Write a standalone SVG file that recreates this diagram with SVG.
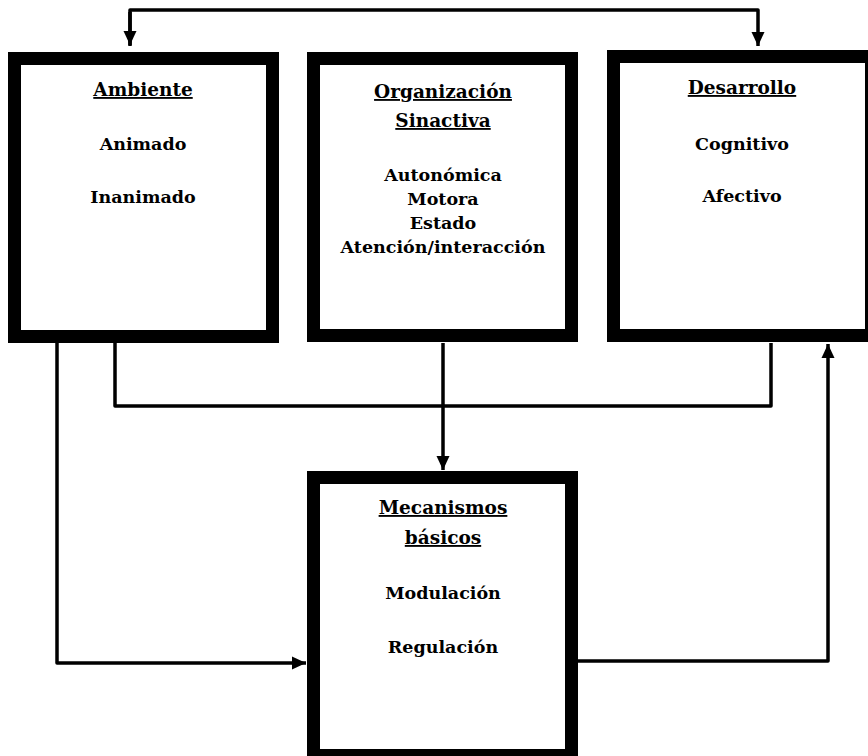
<svg xmlns="http://www.w3.org/2000/svg" width="868" height="756" viewBox="0 0 868 756">
<style>
.box{fill:#fff;stroke:#000;stroke-width:13}
.t{font-family:"DejaVu Serif","Liberation Serif",serif;font-weight:bold;font-size:17.5px;fill:#000;text-anchor:middle}
.h{text-decoration:underline;font-size:18.5px}
.c{fill:none;stroke:#000;stroke-width:3.5;stroke-linejoin:round}
</style>
<defs>
<marker id="ah" markerUnits="userSpaceOnUse" markerWidth="16" markerHeight="16" viewBox="0 0 16 16" refX="14" refY="8" orient="auto">
<path d="M0,1.5 L14,8 L0,14.5 Z" fill="#000"/>
</marker>
</defs>
<rect width="868" height="756" fill="#fff"/>
<g id="connectors">
<path class="c" d="M130,46 V10 H758 V46" marker-end="url(#ah)"/>
<path class="c" d="M130,12 V45" marker-end="url(#ah)"/>
<path class="c" d="M57,343 V663 H306" marker-end="url(#ah)"/>
<path class="c" d="M115,343 V406 H771 V343"/>
<path class="c" d="M443,343 V470" marker-end="url(#ah)"/>
<path class="c" d="M578,661 H828 V344" marker-end="url(#ah)"/>
</g>
<g id="ambiente">
<rect class="box" x="14.5" y="58.5" width="258" height="278"/>
<text class="t h" x="143" y="96">Ambiente</text>
<text class="t" x="143" y="150">Animado</text>
<text class="t" x="143" y="203">Inanimado</text>
</g>
<g id="organizacion">
<rect class="box" x="313.5" y="58.5" width="258" height="277"/>
<text class="t h" x="443" y="98">Organización</text>
<text class="t h" x="443" y="127">Sinactiva</text>
<text class="t" x="443" y="181">Autonómica</text>
<text class="t" x="443" y="205">Motora</text>
<text class="t" x="443" y="229">Estado</text>
<text class="t" x="443" y="253">Atención/interacción</text>
</g>
<g id="desarrollo">
<rect class="box" x="613.5" y="56.5" width="258" height="279"/>
<text class="t h" x="742" y="94">Desarrollo</text>
<text class="t" x="742" y="150">Cognitivo</text>
<text class="t" x="742" y="202">Afectivo</text>
</g>
<g id="mecanismos">
<rect class="box" x="313.5" y="477.5" width="258" height="278"/>
<text class="t h" x="443" y="514">Mecanismos</text>
<text class="t h" x="443" y="544">básicos</text>
<text class="t" x="443" y="599">Modulación</text>
<text class="t" x="443" y="653">Regulación</text>
</g>
</svg>
